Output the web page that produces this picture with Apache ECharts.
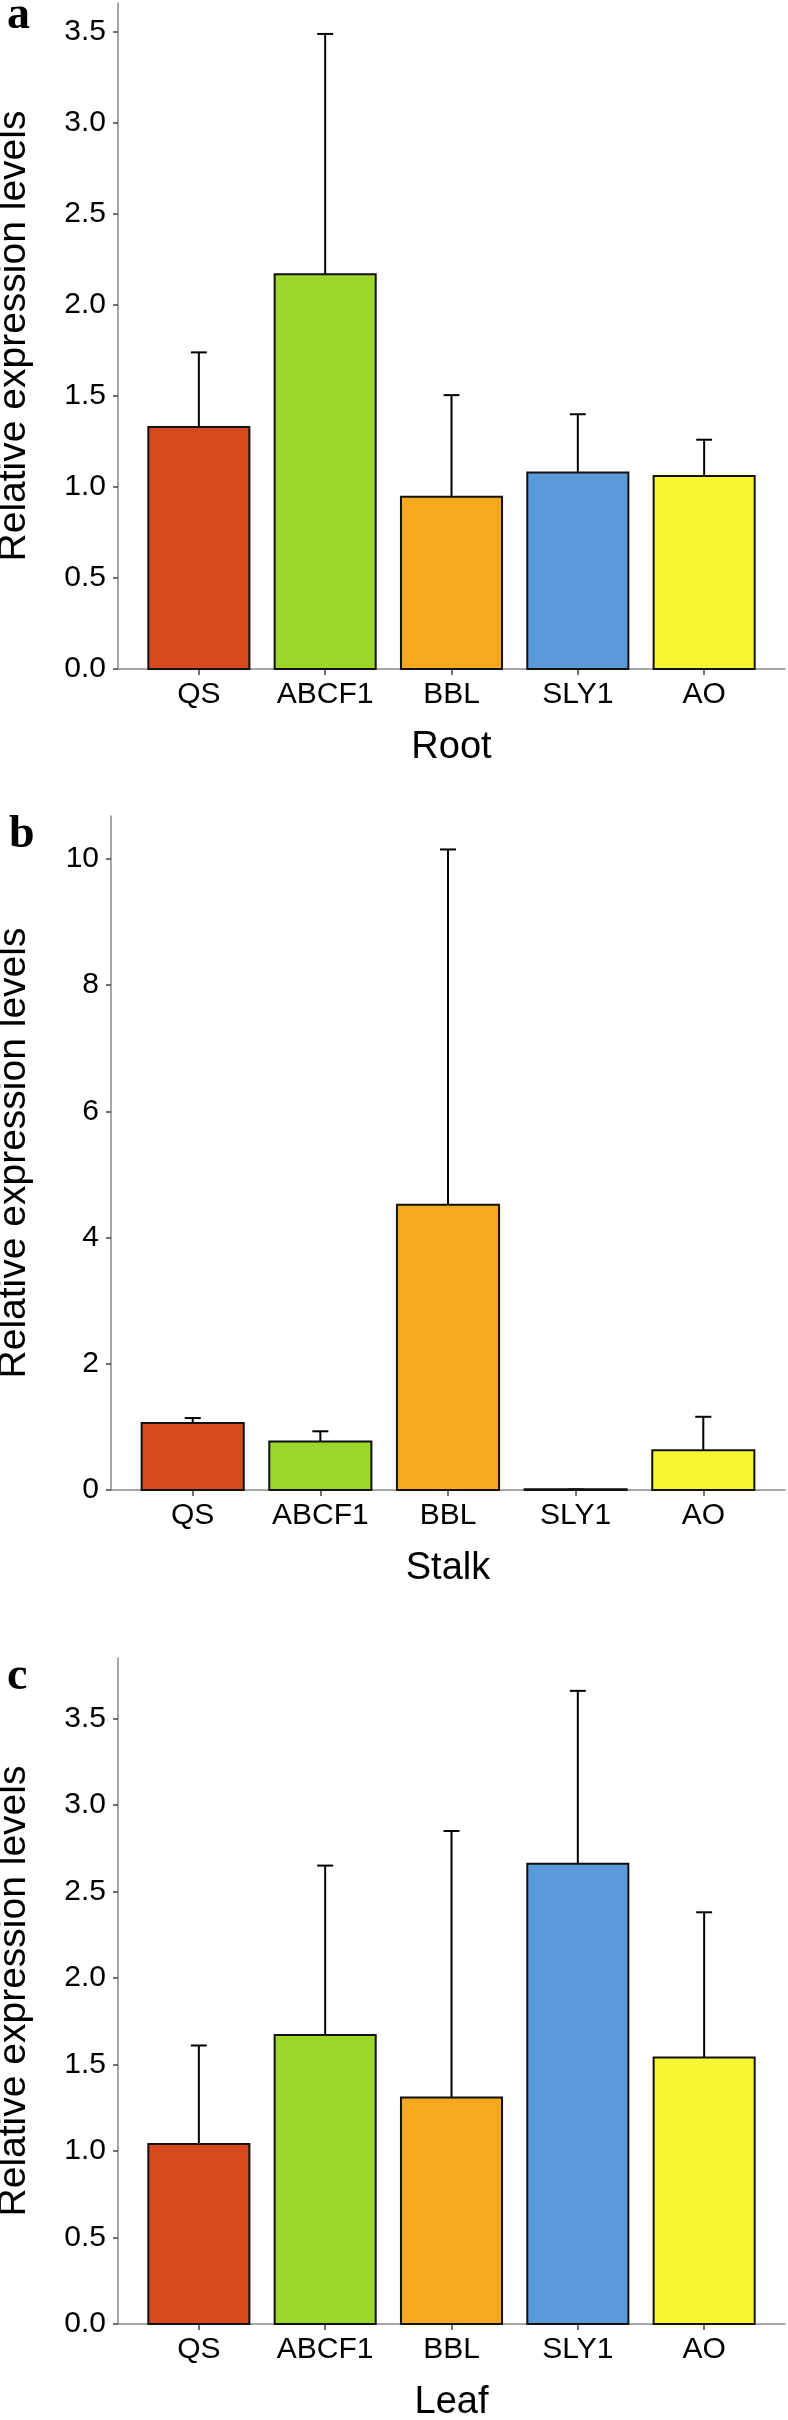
<!DOCTYPE html>
<html>
<head>
<meta charset="utf-8">
<script src="https://cdn.jsdelivr.net/npm/echarts@6/dist/echarts.min.js"></script>
<style>
  html, body { margin: 0; padding: 0; background: #ffffff; }
  #chart { width: 788px; height: 2420px; }
</style>
</head>
<body>
<div id="chart"></div>
<script>
// ---------- data ----------
const categories = ['QS', 'ABCF1', 'BBL', 'SLY1', 'AO'];
const barColors = ['#D84A1C', '#9DD62A', '#F6A81E', '#5A9AD8', '#F5F830'];

const rootMean  = [1.33, 2.17, 0.946, 1.08, 1.06];
const rootUpper = [1.74, 3.49, 1.505, 1.40, 1.26];

const stalkMean  = [1.06, 0.77, 4.52, 0.01, 0.63];
const stalkUpper = [1.14, 0.93, 10.15, 0.01, 1.16];

const leafMean  = [1.04, 1.67, 1.31, 2.66, 1.54];
const leafUpper = [1.61, 2.65, 2.85, 3.66, 2.38];

const rootTicks  = [0, 0.5, 1.0, 1.5, 2.0, 2.5, 3.0, 3.5];
const stalkTicks = [0, 2, 4, 6, 8, 10];
const leafTicks  = [0, 0.5, 1.0, 1.5, 2.0, 2.5, 3.0, 3.5];

const panelNames = ['Root', 'Stalk', 'Leaf'];
const panelLetters = ['a', 'b', 'c'];
const yTitle = 'Relative expression levels';

// ---------- helpers ----------
const FONT = '"Liberation Sans", Arial, sans-serif';
const BAR_HALF = 0.4;
const CAP_HALF = 0.063;
const AXIS_GRAY = '#8a8a8a';

function barRender(params, api) {
  const x = api.value(0), v = api.value(1);
  const p0 = api.coord([x - BAR_HALF, v]);
  const p1 = api.coord([x + BAR_HALF, 0]);
  return {
    type: 'rect',
    shape: { x: p0[0], y: p0[1], width: p1[0] - p0[0], height: p1[1] - p0[1] },
    style: { fill: barColors[params.dataIndex], stroke: '#111', lineWidth: 2 }
  };
}

function errRender(params, api) {
  const x = api.value(0), v = api.value(1), up = api.value(2);
  const b = api.coord([x, v]);
  const t = api.coord([x, up]);
  const cl = api.coord([x - CAP_HALF, up]);
  const cr = api.coord([x + CAP_HALF, up]);
  return {
    type: 'group',
    children: [
      { type: 'line', shape: { x1: b[0], y1: b[1], x2: t[0], y2: t[1] }, style: { stroke: '#000', lineWidth: 2 } },
      { type: 'line', shape: { x1: cl[0], y1: cl[1], x2: cr[0], y2: cr[1] }, style: { stroke: '#000', lineWidth: 2 } }
    ]
  };
}

const grids = [
  { left: 118, right: 3, top: 3, height: 666 },
  { left: 111, right: 3, top: 816, height: 674 },
  { left: 118, right: 3, top: 1658, height: 666 }
];
const yMax = [3.66, 10.68, 3.85];
const yTickSets = [rootTicks, stalkTicks, leafTicks];
const yDecimals = [1, 0, 1];
const yNameGap = [84, 77, 84];
const means = [rootMean, stalkMean, leafMean];
const uppers = [rootUpper, stalkUpper, leafUpper];

const option = {
  animation: false,
  backgroundColor: '#ffffff',
  grid: grids.map(g => Object.assign({ containLabel: false, outerBoundsMode: 'none' }, g)),
  xAxis: grids.map((g, i) => ({
    type: 'value',
    gridIndex: i,
    min: 0.36,
    max: 5.64,
    name: panelNames[i],
    nameLocation: 'middle',
    nameGap: 60,
    nameTextStyle: { fontSize: 38, color: '#000', fontFamily: FONT },
    axisLine: { show: true, onZero: false, lineStyle: { color: AXIS_GRAY, width: 1.5 } },
    axisTick: { show: true, length: 6, customValues: [1, 2, 3, 4, 5], lineStyle: { color: '#444', width: 1.5 } },
    axisLabel: {
      customValues: [1, 2, 3, 4, 5],
      formatter: v => categories[Math.round(v) - 1],
      fontSize: 30, color: '#000', fontFamily: FONT, margin: 11
    },
    splitLine: { show: false }
  })),
  yAxis: grids.map((g, i) => ({
    type: 'value',
    gridIndex: i,
    min: 0,
    max: yMax[i],
    name: yTitle,
    nameLocation: 'middle',
    nameGap: yNameGap[i],
    nameTextStyle: { fontSize: 39, color: '#000', fontFamily: FONT },
    axisLine: { show: true, lineStyle: { color: AXIS_GRAY, width: 1.5 } },
    axisTick: { show: true, length: 5, customValues: yTickSets[i], lineStyle: { color: '#444', width: 1.5 } },
    axisLabel: {
      customValues: yTickSets[i],
      formatter: v => v.toFixed(yDecimals[i]),
      fontSize: 30, color: '#000', fontFamily: FONT, margin: 12
    },
    splitLine: { show: false }
  })),
  graphic: panelLetters.map((l, i) => ({
    type: 'text',
    left: [7, 9, 7][i],
    top: [-7, 812, 1654][i],
    style: { text: l, font: 'bold 46px "Liberation Serif", "Times New Roman", serif', fill: '#000' }
  })),
  series: []
};

for (let i = 0; i < 3; i++) {
  const data = categories.map((c, k) => [k + 1, means[i][k], uppers[i][k]]);
  option.series.push({
    type: 'custom', xAxisIndex: i, yAxisIndex: i, z: 2,
    renderItem: errRender, data: data, encode: { x: 0, y: [1, 2] }, clip: false
  });
  option.series.push({
    type: 'custom', xAxisIndex: i, yAxisIndex: i, z: 3,
    renderItem: barRender, data: data, encode: { x: 0, y: 1 }, clip: false
  });
}

const chart = echarts.init(document.getElementById('chart'), null, { renderer: 'canvas' });
chart.setOption(option);
</script>
</body>
</html>
